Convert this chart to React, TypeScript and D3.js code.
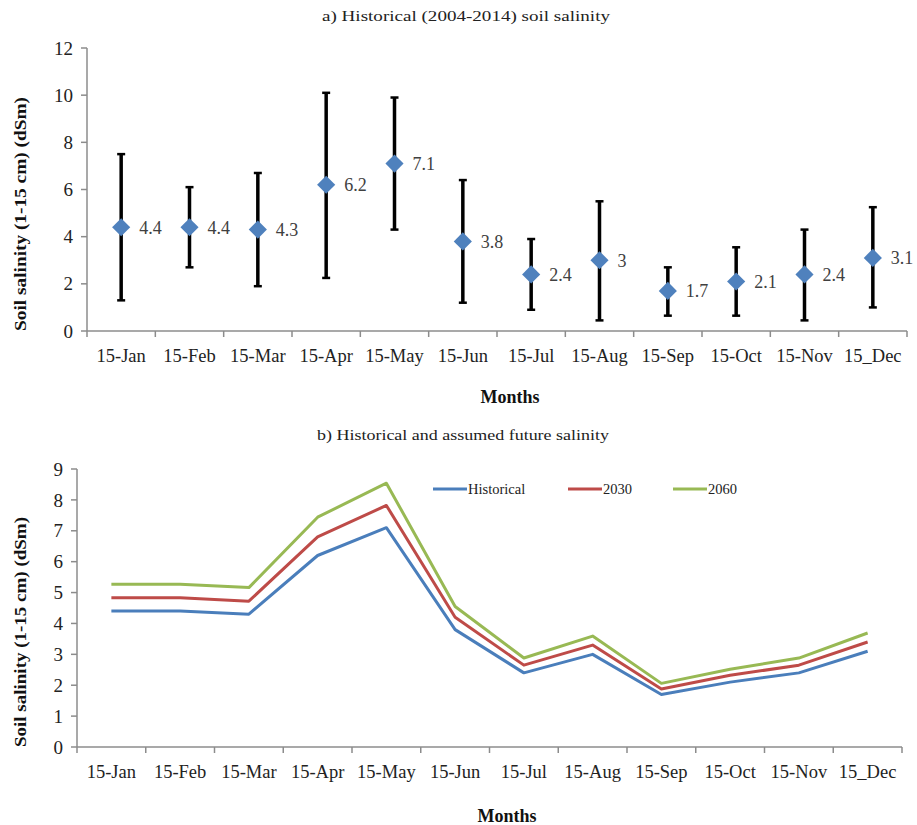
import React, { useRef, useEffect } from 'react';
import * as d3 from 'd3';

const MONTHS = ['15-Jan', '15-Feb', '15-Mar', '15-Apr', '15-May', '15-Jun', '15-Jul', '15-Aug', '15-Sep', '15-Oct', '15-Nov', '15_Dec'];
const HIST_MEAN = [4.4, 4.4, 4.3, 6.2, 7.1, 3.8, 2.4, 3, 1.7, 2.1, 2.4, 3.1];
const HIST_MAX = [7.5, 6.1, 6.7, 10.1, 9.9, 6.4, 3.9, 5.5, 2.7, 3.55, 4.3, 5.25];
const HIST_MIN = [1.3, 2.7, 1.9, 2.25, 4.3, 1.2, 0.9, 0.45, 0.65, 0.65, 0.45, 1.0];
const SERIES_2030 = [4.83, 4.83, 4.72, 6.8, 7.82, 4.2, 2.65, 3.3, 1.88, 2.32, 2.65, 3.4];
const SERIES_2060 = [5.27, 5.27, 5.16, 7.44, 8.54, 4.55, 2.88, 3.59, 2.06, 2.52, 2.88, 3.69];
const TOP_TICKS = [0, 2, 4, 6, 8, 10, 12];
const BOTTOM_TICKS = [0, 1, 2, 3, 4, 5, 6, 7, 8, 9];
const LEGEND = ['Historical', '2030', '2060'];

const FONT = '"Liberation Serif", "Times New Roman", serif';
const AXIS = '#8c8c8c';
const COLORS = ['#4a7ebb', '#be4b48', '#98b954'];

export default function App() {
    const svgRef = useRef<SVGSVGElement>(null);

    useEffect(() => {
        document.body.style.margin = '0';
        const svg = d3.select(svgRef.current);
        svg.selectAll('*').remove();
        svg.attr('font-family', FONT);

        const drawFrame = (x: d3.ScaleBand<string>, y: d3.ScaleLinear<number, number>, ticks: number[], labelY: number) => {
            const [x0, x1] = x.range();
            const [yb, yt] = y.range();
            const g = svg.append('g');
            // y axis
            g.append('line').attr('x1', x0).attr('x2', x0).attr('y1', yt).attr('y2', yb)
                .attr('stroke', AXIS).attr('stroke-width', 1.5);
            g.selectAll('.yt').data(ticks).join('line')
                .attr('x1', x0 - 6).attr('x2', x0)
                .attr('y1', d => y(d)).attr('y2', d => y(d))
                .attr('stroke', AXIS).attr('stroke-width', 1.5);
            g.selectAll('.yl').data(ticks).join('text')
                .attr('x', x0 - 14).attr('y', d => y(d)).attr('dy', '0.35em')
                .attr('text-anchor', 'end').attr('font-size', 19).attr('fill', '#222')
                .text(d => d);
            // x axis
            g.append('line').attr('x1', x0).attr('x2', x1).attr('y1', yb).attr('y2', yb)
                .attr('stroke', AXIS).attr('stroke-width', 1.5);
            const bounds = MONTHS.map(m => x(m) as number).concat([x1]);
            g.selectAll('.xt').data(bounds).join('line')
                .attr('x1', d => d).attr('x2', d => d)
                .attr('y1', yb).attr('y2', yb + 6)
                .attr('stroke', AXIS).attr('stroke-width', 1.5);
            g.selectAll('.xl').data(MONTHS).join('text')
                .attr('x', d => (x(d) as number) + x.bandwidth() / 2)
                .attr('y', labelY)
                .attr('text-anchor', 'middle').attr('font-size', 18.5).attr('fill', '#222')
                .text(d => d);
        };

        // ---- a) top chart
        const xa = d3.scaleBand<string>().domain(MONTHS).range([87, 907]);
        const ya = d3.scaleLinear().domain([0, 12]).range([331, 48]);
        drawFrame(xa, ya, TOP_TICKS, 362);
        const cx = (i: number, x: d3.ScaleBand<string>) => (x(MONTHS[i]) as number) + x.bandwidth() / 2;

        svg.append('text').attr('x', 466).attr('y', 21).attr('text-anchor', 'middle')
            .attr('font-size', 15).attr('fill', '#222')
            .attr('textLength', 288).attr('lengthAdjust', 'spacingAndGlyphs')
            .text('a) Historical  (2004-2014) soil  salinity');

        const eb = svg.append('g');
        MONTHS.forEach((_, i) => {
            const px = cx(i, xa);
            eb.append('line').attr('x1', px).attr('x2', px)
                .attr('y1', ya(HIST_MAX[i])).attr('y2', ya(HIST_MIN[i]))
                .attr('stroke', '#000').attr('stroke-width', 3.5);
            [HIST_MAX[i], HIST_MIN[i]].forEach(v => {
                eb.append('line').attr('x1', px - 4).attr('x2', px + 4)
                    .attr('y1', ya(v)).attr('y2', ya(v))
                    .attr('stroke', '#000').attr('stroke-width', 2.5);
            });
        });
        const diamond = d3.symbol().type(d3.symbolDiamond2).size(210);
        svg.append('g').selectAll('path').data(HIST_MEAN).join('path')
            .attr('d', diamond)
            .attr('transform', (d, i) => `translate(${cx(i, xa)},${ya(d)})`)
            .attr('fill', '#4f81bd');
        svg.append('g').selectAll('text').data(HIST_MEAN).join('text')
            .attr('x', (d, i) => cx(i, xa) + 18)
            .attr('y', d => ya(d)).attr('dy', '0.35em')
            .attr('font-size', 18).attr('fill', '#404040')
            .text(d => d);

        svg.append('text').attr('x', 510).attr('y', 403).attr('text-anchor', 'middle')
            .attr('font-size', 18).attr('font-weight', 'bold').attr('fill', '#111')
            .text('Months');
        svg.append('text')
            .attr('transform', `translate(26,214) rotate(-90)`)
            .attr('text-anchor', 'middle').attr('font-size', 17).attr('font-weight', 'bold').attr('fill', '#111')
            .attr('textLength', 234).attr('lengthAdjust', 'spacingAndGlyphs')
            .text('Soil salinity (1-15 cm)  (dSm)');

        // ---- b) bottom chart
        const xb = d3.scaleBand<string>().domain(MONTHS).range([77, 902]);
        const yb = d3.scaleLinear().domain([0, 9]).range([747, 469]);
        drawFrame(xb, yb, BOTTOM_TICKS, 778);

        svg.append('text').attr('x', 463).attr('y', 440).attr('text-anchor', 'middle')
            .attr('font-size', 15).attr('fill', '#222')
            .attr('textLength', 292).attr('lengthAdjust', 'spacingAndGlyphs')
            .text('b) Historical  and  assumed  future  salinity');

        const line = d3.line<number>()
            .x((_, i) => cx(i, xb))
            .y(d => yb(d));
        [HIST_MEAN, SERIES_2030, SERIES_2060].forEach((s, k) => {
            svg.append('path').datum(s)
                .attr('d', line)
                .attr('fill', 'none').attr('stroke', COLORS[k]).attr('stroke-width', 3)
                .attr('stroke-linejoin', 'round');
        });

        const legendX = [433, 568, 673];
        LEGEND.forEach((name, k) => {
            svg.append('line').attr('x1', legendX[k]).attr('x2', legendX[k] + 34)
                .attr('y1', 489).attr('y2', 489)
                .attr('stroke', COLORS[k]).attr('stroke-width', 3);
            svg.append('text').attr('x', legendX[k] + 35).attr('y', 489).attr('dy', '0.35em')
                .attr('font-size', 14.5).attr('fill', '#222')
                .text(name);
        });

        svg.append('text').attr('x', 507).attr('y', 822).attr('text-anchor', 'middle')
            .attr('font-size', 18).attr('font-weight', 'bold').attr('fill', '#111')
            .text('Months');
        svg.append('text')
            .attr('transform', `translate(26,632) rotate(-90)`)
            .attr('text-anchor', 'middle').attr('font-size', 17).attr('font-weight', 'bold').attr('fill', '#111')
            .attr('textLength', 230).attr('lengthAdjust', 'spacingAndGlyphs')
            .text('Soil salinity (1-15 cm)  (dSm)');
    }, []);

    return <svg ref={svgRef} width={917} height={825} style={{ display: 'block', background: '#fff' }} />;
}
